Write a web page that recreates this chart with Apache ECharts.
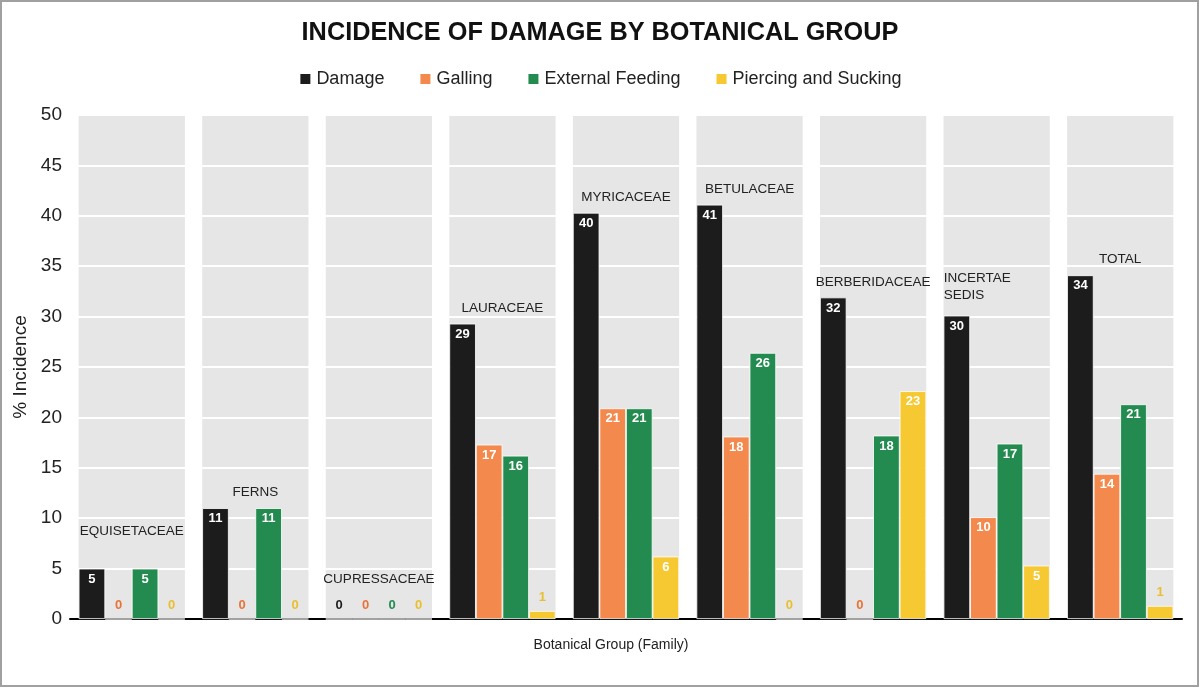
<!DOCTYPE html>
<html>
<head>
<meta charset="utf-8">
<script src="https://cdn.jsdelivr.net/npm/echarts@6/dist/echarts.min.js"></script>
<style>
html,body{margin:0;padding:0;background:#fff;}
#chart{width:1200px;height:688px;}
</style>
</head>
<body>
<div id="chart"></div>
<script>
// ---- data ----
var categories = ['EQUISETACEAE','FERNS','CUPRESSACEAE','LAURACEAE','MYRICACEAE','BETULACEAE','BERBERIDACEAE','INCERTAE\nSEDIS','TOTAL'];
var seriesNames = ['Damage','Galling','External Feeding','Piercing and Sucking'];
var damage   = [5.0, 11.0, 0, 29.3, 40.3, 41.1, 31.9, 30.1, 34.1];
var galling  = [0, 0, 0, 17.3, 20.9, 18.1, 0, 10.1, 14.4];
var external = [5.0, 11.0, 0, 16.2, 20.9, 26.4, 18.2, 17.4, 21.3];
var piercing = [0, 0, 0, 0.8, 6.2, 0, 22.6, 5.3, 1.3];
var yTicks = {min: 0, max: 50, interval: 5};

// ---- style ----
var FONT = '"Liberation Sans", Arial, sans-serif';
var colors = ['#1c1c1c', '#f4894d', '#238b4f', '#f6c832'];
var zeroLabelColors = ['#1c1c1c', '#e8733a', '#238b4f', '#e9bf30'];
var groupLabelStyle = {
  0: {offset: [0, -22]},
  2: {offset: [0, -24]},
  7: {align: 'left', offset: [-53, -5]}
};

var valueSets = [damage, galling, external, piercing];
var groupMax = categories.map(function (c, i) {
  return Math.max(damage[i], galling[i], external[i], piercing[i]);
});

var chart = echarts.init(document.getElementById('chart'));

var series = [];
// background panels
series.push({
  type: 'bar', xAxisIndex: 1, silent: true, z: -1,
  barWidth: '86%',
  itemStyle: {color: '#e6e6e6'},
  data: categories.map(function () { return yTicks.max; })
});
// group name labels
series.push({
  type: 'bar', xAxisIndex: 1, silent: true, z: 5,
  barWidth: '86%', barGap: '-100%',
  itemStyle: {color: 'rgba(0,0,0,0)'},
  label: {show: true, position: 'top', distance: 7, color: '#222', fontSize: 13.5,
    fontFamily: FONT, lineHeight: 17,
    formatter: function (p) { return categories[p.dataIndex]; }},
  data: groupMax.map(function (v, i) {
    var d = {value: v};
    if (groupLabelStyle[i]) d.label = groupLabelStyle[i];
    return d;
  })
});
// main bars
valueSets.forEach(function (vals, si) {
  series.push({
    name: seriesNames[si], type: 'bar', xAxisIndex: 0,
    barGap: 0, barCategoryGap: '14%',
    itemStyle: {color: colors[si], borderColor: '#ffffff', borderWidth: 0.8},
    label: {show: true, position: 'insideTop', distance: 4, color: '#fff',
      fontWeight: 'bold', fontSize: 13, fontFamily: FONT,
      formatter: function (p) { return Math.round(p.value); }},
    data: vals.map(function (v) {
      var d = {value: v};
      if (v < 3) d.label = {position: 'top', distance: 7, color: zeroLabelColors[si]};
      return d;
    })
  });
});

chart.setOption({
  animation: false,
  color: colors,
  title: {
    text: 'INCIDENCE OF DAMAGE BY BOTANICAL GROUP', left: 'center', top: 16,
    textStyle: {fontSize: 25.3, fontWeight: 'bold', color: '#111', fontFamily: FONT}
  },
  legend: {
    data: seriesNames, top: 65, left: 'center', itemWidth: 12, itemHeight: 12, itemGap: 34,
    icon: 'rect',
    textStyle: {fontSize: 18, color: '#222', fontFamily: FONT}
  },
  grid: {left: 70, right: 18, top: 115, bottom: 69, containLabel: false},
  xAxis: [{
    type: 'category', data: categories,
    axisLine: {lineStyle: {color: '#000', width: 2}},
    axisTick: {show: false}, axisLabel: {show: false}
  }, {
    type: 'category', data: categories, show: false
  }],
  yAxis: {
    type: 'value', min: yTicks.min, max: yTicks.max, interval: yTicks.interval,
    name: '% Incidence', nameLocation: 'middle', nameGap: 28, nameRotate: 90,
    nameTextStyle: {fontSize: 19, color: '#222', fontFamily: FONT},
    axisLine: {show: false}, axisTick: {show: false},
    axisLabel: {fontSize: 19, color: '#222', fontFamily: FONT, margin: 8},
    splitLine: {lineStyle: {color: '#ffffff', width: 2}}
  },
  graphic: [{
    type: 'text', z: 10, silent: true,
    style: {x: 611, y: 638, text: 'Botanical Group (Family)', fontSize: 14, fill: '#222',
      fontFamily: FONT, textAlign: 'center'}
  }, {
    type: 'rect', z: 100, silent: true,
    shape: {x: 1, y: 1, width: 1197, height: 685},
    style: {fill: 'none', stroke: '#a0a0a0', lineWidth: 2}
  }],
  series: series
});
</script>
</body>
</html>
